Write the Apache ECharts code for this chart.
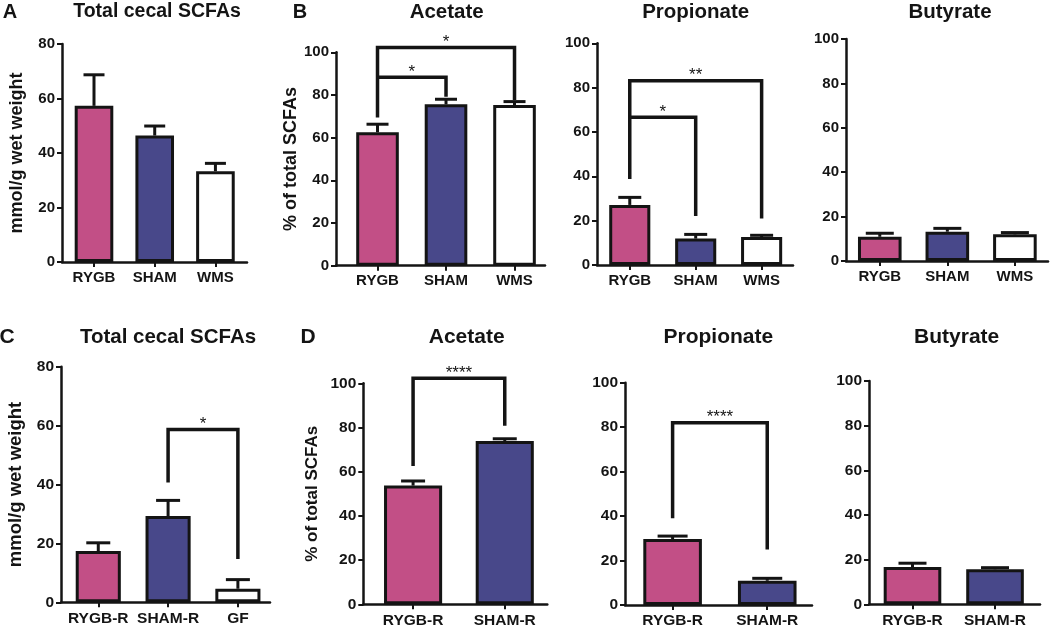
<!DOCTYPE html>
<html>
<head>
<meta charset="utf-8">
<script src="https://cdn.jsdelivr.net/npm/echarts@6/dist/echarts.min.js"></script>
<style>
html,body{margin:0;padding:0;background:#fff;}
#chart{width:1050px;height:629px;}
</style>
</head>
<body>
<div id="chart"></div>
<script>
// ---------- DATA ----------
const catsTop = ['RYGB', 'SHAM', 'WMS'];
const catsC = ['RYGB-R', 'SHAM-R', 'GF'];
const catsD = ['RYGB-R', 'SHAM-R'];

const totalA = [57.3, 46.4, 33.3];
const semA = [11.4, 3.5, 2.9];
const acetateB = [62.5, 75.6, 75.3];
const semAcetateB = [3.8, 2.4, 1.6];
const propionateB = [27.1, 11.9, 12.6];
const semPropionateB = [3.4, 1.9, 0.8];
const butyrateB = [10.9, 13.2, 12.0];
const semButyrateB = [1.6, 1.5, 0.8];

const totalC = [17.4, 29.3, 4.6];
const semC = [2.8, 5.3, 3.1];
const acetateD = [53.7, 73.9];
const semAcetateD = [2.1, 1.0];
const propionateD = [29.7, 10.9];
const semPropionateD = [1.3, 1.1];
const butyrateD = [16.7, 15.7];
const semButyrateD = [1.7, 0.7];

// significance brackets: [fromIndex, toIndex, topValue, fromLegEnd, toLegEnd]
const bracketsAcetateB = [[0, 2, 102.2, 69.5, 77.6], [0, 1, 88.3, 88.3, 79.2]];
const starsAcetateB = ['*', '*'];
const bracketsPropionateB = [[0, 2, 83.1, 38.8, 21.0], [0, 1, 66.6, 66.6, 22.1]];
const starsPropionateB = ['**', '*'];
const bracketsC = [[1, 2, 58.7, 40.7, 14.7]];
const starsC = ['*'];
const bracketsAcetateD = [[0, 1, 102.3, 62.6, 80.8]];
const starsAcetateD = ['****'];
const bracketsPropionateD = [[0, 1, 82.0, 39.0, 25.0]];
const starsPropionateD = ['****'];

const yTicks80 = [0, 20, 40, 60, 80];
const yTicks100 = [0, 20, 40, 60, 80, 100];

// ---------- STYLE / LAYOUT ----------
const FONT = '"Liberation Sans", Arial, sans-serif';
const barColors = ['#C24F86', '#48488A', '#FFFFFF'];
const INK = '#141414';

const panels = [
  {cats: catsTop, vals: totalA, sem: semA, br: [], st: [], yTicks: yTicks80, tick: 15,
   grid: {left: 62, top: 44, width: 185, height: 218}, xr: [-0.527, 2.52], barW: 39, cap: 10.5,
   yname: 'mmol/g wet weight', nameGap: 36, nameSize: 18},
  {cats: catsTop, vals: acetateB, sem: semAcetateB, br: bracketsAcetateB, st: starsAcetateB, yTicks: yTicks100, tick: 15,
   grid: {left: 336, top: 52.3, width: 209, height: 213.4}, xr: [-0.606, 2.445], barW: 43, cap: 11,
   yname: '% of total SCFAs', nameGap: 36, nameSize: 18},
  {cats: catsTop, vals: propionateB, sem: semPropionateB, br: bracketsPropionateB, st: starsPropionateB, yTicks: yTicks100, tick: 15,
   grid: {left: 597, top: 43.3, width: 196, height: 221.7}, xr: [-0.497, 2.476], barW: 41.5, cap: 11.5},
  {cats: catsTop, vals: butyrateB, sem: semButyrateB, br: [], st: [], yTicks: yTicks100, tick: 15,
   grid: {left: 846, top: 39, width: 202, height: 222}, xr: [-0.5, 2.49], barW: 44, cap: 14},
  {cats: catsC, vals: totalC, sem: semC, br: bracketsC, st: starsC, yTicks: yTicks80, tick: 15.5,
   grid: {left: 61, top: 366.7, width: 209, height: 235.6}, xr: [-0.534, 2.46], barW: 45.5, cap: 12,
   yname: 'mmol/g wet weight', nameGap: 36, nameSize: 18.5},
  {cats: catsD, vals: acetateD, sem: semAcetateD, br: bracketsAcetateD, st: starsAcetateD, yTicks: yTicks100, tick: 15.5,
   grid: {left: 363.3, top: 383.3, width: 184, height: 221}, xr: [-0.543, 1.464], barW: 58.5, cap: 12,
   yname: '% of total SCFAs', nameGap: 42, nameSize: 17},
  {cats: catsD, vals: propionateD, sem: semPropionateD, br: bracketsPropionateD, st: starsPropionateD, yTicks: yTicks100, tick: 15.5,
   grid: {left: 625, top: 382.7, width: 187, height: 222.3}, xr: [-0.503, 1.473], barW: 59, cap: 15},
  {cats: catsD, vals: butyrateD, sem: semButyrateD, br: [], st: [], yTicks: yTicks100, tick: 15.5,
   grid: {left: 869, top: 381, width: 171, height: 223.3}, xr: [-0.527, 1.545], barW: 58, cap: 14}
];

const titles = [
  ['A', 10, 12, 20], ['Total cecal SCFAs', 157, 12, 19.5], ['B', 300, 12, 20], ['Acetate', 446.7, 12, 20.5],
  ['Propionate', 695.7, 12, 20.5], ['Butyrate', 950, 12, 20.5],
  ['C', 7, 337, 21], ['Total cecal SCFAs', 168, 337, 20.5], ['D', 308, 337, 21], ['Acetate', 466.7, 337, 21],
  ['Propionate', 718.3, 337, 21], ['Butyrate', 956.7, 337, 21]
];

// ---------- BUILD ----------
const grids = [], xAxes = [], yAxes = [], series = [];
panels.forEach((p, i) => {
  grids.push(Object.assign({containLabel: false}, p.grid));
  const idx = p.cats.map((_, k) => k);
  xAxes.push({
    type: 'value', gridIndex: i, min: p.xr[0], max: p.xr[1],
    splitLine: {show: false},
    axisLine: {show: true, onZero: false, lineStyle: {color: INK, width: 2.5}},
    axisTick: {show: true, customValues: idx, length: 5, lineStyle: {color: INK, width: 2}},
    axisLabel: {show: true, customValues: idx, formatter: v => p.cats[Math.round(v)],
      color: INK, fontFamily: FONT, fontWeight: 'bold', fontSize: p.tick, margin: 8}
  });
  yAxes.push({
    type: 'value', gridIndex: i, min: 0, max: p.yTicks[p.yTicks.length - 1], interval: 20,
    splitLine: {show: false},
    axisLine: {show: true, onZero: false, lineStyle: {color: INK, width: 2.5}},
    axisTick: {show: true, length: 5, lineStyle: {color: INK, width: 2}},
    axisLabel: {color: INK, fontFamily: FONT, fontWeight: 'bold', fontSize: p.tick, margin: 7},
    name: p.yname || '', nameLocation: 'middle', nameGap: p.nameGap || 30, nameRotate: 90,
    nameTextStyle: {color: INK, fontFamily: FONT, fontWeight: 'bold', fontSize: p.nameSize || 18}
  });
  series.push({
    type: 'bar', xAxisIndex: i, yAxisIndex: i, barWidth: p.barW - 0.4, z: 2,
    data: p.vals.map((v, k) => ({value: [k, v], itemStyle: {color: barColors[k]}})),
    itemStyle: {borderColor: INK, borderWidth: 3}
  });
  series.push({
    type: 'custom', xAxisIndex: i, yAxisIndex: i, z: 3,
    data: p.vals.map((v, k) => [k, v, v + p.sem[k]]),
    renderItem: (params, api) => {
      const a = api.coord([api.value(0), api.value(1)]);
      const b = api.coord([api.value(0), api.value(2)]);
      return {type: 'group', children: [
        {type: 'line', shape: {x1: a[0], y1: a[1], x2: b[0], y2: b[1]}, style: {stroke: INK, lineWidth: 3}},
        {type: 'line', shape: {x1: b[0] - p.cap, y1: b[1], x2: b[0] + p.cap, y2: b[1]}, style: {stroke: INK, lineWidth: 3}}
      ]};
    }
  });
  if (p.br.length) {
    series.push({
      type: 'custom', xAxisIndex: i, yAxisIndex: i, z: 4, clip: false,
      data: p.br,
      renderItem: (params, api) => {
        const f = api.value(0), t = api.value(1), top = api.value(2);
        const a = api.coord([f, api.value(3)]), b = api.coord([f, top]);
        const c = api.coord([t, top]), d = api.coord([t, api.value(4)]);
        return {type: 'group', children: [
          {type: 'polyline', shape: {points: [a, b, c, d]}, style: {stroke: INK, lineWidth: 3.5, fill: null, lineJoin: 'miter'}},
          {type: 'text', style: {x: (b[0] + c[0]) / 2, y: b[1] - 5, text: p.st[params.dataIndex],
            textAlign: 'center', textVerticalAlign: 'middle', fill: INK,
            font: '17px ' + FONT}}
        ]};
      }
    });
  }
});

const graphics = titles.map(t => ({
  type: 'text', silent: true,
  style: {x: t[1], y: t[2], text: t[0], textAlign: 'center', textVerticalAlign: 'middle',
    fill: INK, font: 'bold ' + t[3] + 'px ' + FONT}
}));

const chart = echarts.init(document.getElementById('chart'), null, {renderer: 'canvas'});
chart.setOption({
  animation: false,
  backgroundColor: '#ffffff',
  grid: grids, xAxis: xAxes, yAxis: yAxes, series: series,
  graphic: graphics
});
</script>
</body>
</html>
